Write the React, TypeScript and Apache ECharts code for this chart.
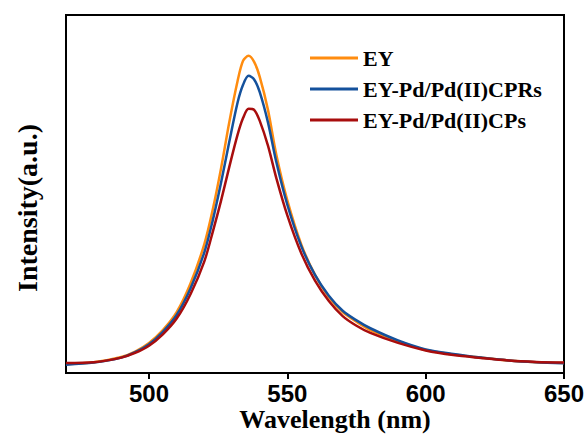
import React, { useEffect, useRef } from "react";
import * as echarts from "echarts";

const wavelengths = [470, 480, 490, 495, 500, 505, 510, 515, 520, 523, 526, 529, 532, 534, 536, 538, 540, 543, 546, 550, 555, 560, 565, 570, 575, 580, 590, 600, 610, 620, 630, 640, 650];

const eyValues = [2.5, 3.0, 4.5, 6.0, 8.4, 12.0, 17.0, 25.0, 36.0, 45.5, 57, 70, 81.5, 87.2, 88.6, 86.9, 82.8, 73.5, 61, 48.2, 36, 27.4, 21.2, 17, 14.3, 12, 8.9, 6.4, 5.2, 4.3, 3.5, 3.0, 2.8];
const cprsValues = [2.3, 2.9, 4.3, 5.8, 8.0, 11.5, 16.2, 23.6, 33.7, 42.5, 53, 64.5, 75.5, 80.5, 83, 82, 78.5, 70, 59, 47, 35.5, 27.4, 21.6, 17.4, 14.7, 12.5, 9.1, 6.6, 5.3, 4.3, 3.5, 3.0, 2.7];
const cpsValues = [2.8, 3.0, 4.3, 5.6, 7.6, 10.8, 15.2, 22.0, 31.2, 39.3, 48, 57.5, 66.5, 71.2, 73.8, 73.5, 70.5, 63.5, 54.5, 44, 33.5, 25.8, 20.1, 15.9, 13.2, 11.2, 8.4, 6.3, 5.0, 4.2, 3.5, 3.1, 2.9];

const seriesNames = ["EY", "EY-Pd/Pd(II)CPRs", "EY-Pd/Pd(II)CPs"];
const seriesColors = ["#ff8c0f", "#14519c", "#a80d0d"];
const xTicks = [500, 550, 600, 650];
const xTitle = "Wavelength (nm)";
const yTitle = "Intensity(a.u.)";

export default function App() {
  const ref = useRef<HTMLDivElement>(null);
  useEffect(() => {
    if (!ref.current) return;
    const chart = echarts.init(ref.current, null, { renderer: "svg" });
    const allValues = [eyValues, cprsValues, cpsValues];
    const serif = "'Liberation Serif', 'Times New Roman', serif";
    const sans = "'Liberation Sans', Arial, sans-serif";
    chart.setOption({
      animation: false,
      backgroundColor: "#ffffff",
      grid: {
        left: 66,
        right: 24,
        top: 15,
        bottom: 63,
        show: true,
        borderColor: "#000",
        borderWidth: 2,
        backgroundColor: "transparent",
      },
      legend: {
        orient: "vertical",
        left: 305,
        top: 42,
        itemWidth: 48,
        itemHeight: 3,
        itemGap: 9,
        data: seriesNames,
        icon: "rect",
        textStyle: {
          fontFamily: serif,
          fontWeight: "bold",
          fontSize: 22,
          color: "#000",
          lineHeight: 22,
        },
      },
      graphic: [
        {
          type: "text",
          x: 335,
          y: 419,
          style: {
            text: xTitle,
            fontFamily: serif,
            fontWeight: "bold",
            fontSize: 26,
            fill: "#000",
            align: "center",
            verticalAlign: "middle",
          },
        },
        {
          type: "text",
          x: 27,
          y: 208,
          rotation: Math.PI / 2,
          style: {
            text: yTitle,
            fontFamily: serif,
            fontWeight: "bold",
            fontSize: 28,
            fill: "#000",
            align: "center",
            verticalAlign: "middle",
          },
        },
      ],
      xAxis: {
        type: "value",
        min: 470,
        max: 650,
        axisLine: { lineStyle: { color: "#000", width: 2 } },
        axisTick: {
          show: true,
          length: 6,
          lineStyle: { color: "#000", width: 2 },
          customValues: xTicks,
        },
        axisLabel: {
          fontFamily: sans,
          fontWeight: "bold",
          fontSize: 24,
          color: "#000",
          margin: 8,
          customValues: xTicks,
          showMaxLabel: true,
        },
        splitLine: { show: false },
      },
      yAxis: {
        type: "value",
        min: 0,
        max: 100,
        axisLine: { show: true, lineStyle: { color: "#000", width: 2 } },
        axisTick: { show: false },
        axisLabel: { show: false },
        splitLine: { show: false },
      },
      series: seriesNames.map((name, i) => ({
        name,
        type: "line",
        symbol: "none",
        smooth: 0.3,
        data: wavelengths.map((w, j) => [w, allValues[i][j]]),
        lineStyle: { color: seriesColors[i], width: 2.5 },
        itemStyle: { color: seriesColors[i] },
      })),
    });
    return () => chart.dispose();
  }, []);
  return (
    <div
      ref={ref}
      style={{ position: "fixed", left: 0, top: 0, width: 588, height: 436, background: "#fff" }}
    />
  );
}
